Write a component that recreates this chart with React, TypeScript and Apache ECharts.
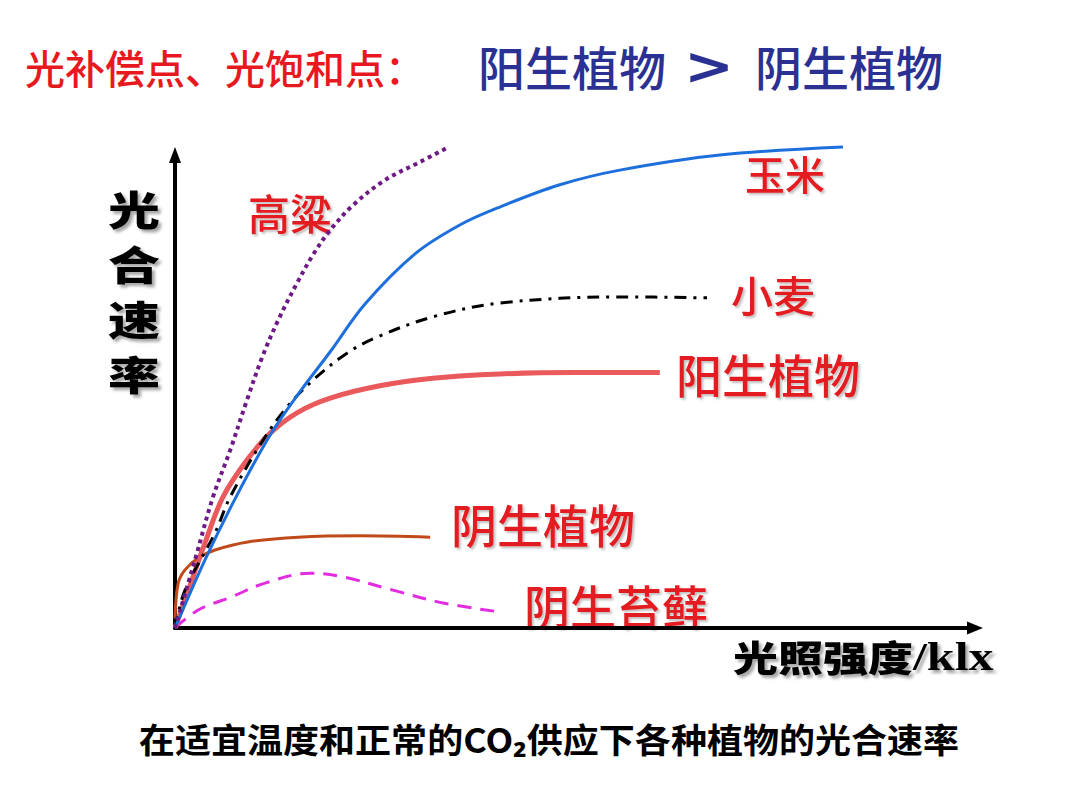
import React, { useEffect, useRef } from "react";
import * as echarts from "echarts";

// Light intensity (x, 0-100 along the drawn axis) vs photosynthetic rate (y, 0-100)
const cornData: number[][] = [
  [0, 0], [3.75, 14.4], [7.75, 28.1], [11.9, 40.8], [15.6, 49.9], [19.4, 58.4], [23.75, 68.5],
  [30, 79.1], [35.6, 85.2], [40.6, 89], [48.1, 93.7], [55.6, 96.8], [68.1, 100], [83.5, 101.7],
];
const sorghumData: number[][] = [
  [0, 0], [2.5, 14.4], [4.75, 27.7], [6.9, 37.6], [9.0, 48.2], [11.0, 57.7], [13.1, 65.8],
  [15.25, 72.9], [17.25, 78.9], [19.4, 84.1], [22.25, 89.4], [26.25, 94.7], [30.6, 98.5], [34, 101.5],
];
const wheatData: number[][] = [
  [0, 0], [1.25, 8], [5, 20.1], [6.9, 27.7], [11, 39.7], [14, 46.7], [17.25, 52.4],
  [21.5, 58.1], [25.25, 61.5], [32.25, 65.8], [40.6, 68.7], [55.6, 70], [66.5, 69.8],
];
const sunPlantData: number[][] = [
  [0, 0], [1.9, 9.1], [3.75, 18], [6, 27.7], [9, 35.5], [11.9, 41.2], [15.25, 45.5],
  [19.4, 48.6], [25.6, 51.2], [32.25, 52.8], [40.6, 53.7], [50, 54], [60.6, 54],
];
const shadePlantData: number[][] = [
  [0, 2], [0.4, 9.5], [1.25, 12.3], [2.9, 14.8], [5, 16.5], [9.1, 18.2], [15.4, 19.2],
  [23.1, 19.5], [31.9, 19.2],
];
const mossData: number[][] = [
  [0, 0], [2.9, 3.8], [7.1, 6.6], [11.25, 9.5], [16.9, 11.6], [21, 10.8], [27.25, 8],
  [33.5, 5.3], [40.6, 3.4],
];

const seriesNames = ["阴生苔藓", "阴生植物", "阳生植物", "小麦", "玉米", "高粱"];
const titleLeft = "光补偿点、光饱和点：";
const titleRightA = "阳生植物";
const titleRightB = "阴生植物";
const yAxisName = "光合速率";
const xAxisNameCn = "光照强度";
const xAxisUnit = "/klx";
const caption = "在适宜温度和正常的CO₂供应下各种植物的光合速率";

const CJK = '"Noto Sans CJK SC", "Noto Sans", sans-serif';
const LABEL_RED = "#E31B20";

export default function App() {
  const ref = useRef<HTMLDivElement>(null);
  useEffect(() => {
    if (!ref.current) return;
    const chart = echarts.init(ref.current, undefined, { renderer: "svg" });
    const lineBase = { type: "line" as const, showSymbol: false, smooth: 0.35, clip: false };
    const redLabel = (text: string, x: number, y: number, size: number) => ({
      type: "text",
      x,
      y,
      style: {
        text,
        fill: LABEL_RED,
        fontSize: size,
        fontFamily: CJK,
        fontWeight: 500,
        textAlign: "center",
        textVerticalAlign: "middle",
        textShadowColor: "rgba(0,0,0,0.25)",
        textShadowBlur: 2,
        textShadowOffsetX: 2,
        textShadowOffsetY: 2,
      },
    });
    chart.setOption({
      animation: false,
      backgroundColor: "#ffffff",
      grid: { left: 175, right: 105, top: 155, bottom: 182 },
      xAxis: {
        type: "value",
        min: 0,
        max: 100,
        axisLine: { show: true, lineStyle: { color: "#000", width: 4 }, symbol: ["none", "triangle"], symbolSize: [13, 16] },
        axisTick: { show: false },
        axisLabel: { show: false },
        splitLine: { show: false },
      },
      yAxis: {
        type: "value",
        min: 0,
        max: 100,
        axisLine: { show: true, lineStyle: { color: "#000", width: 4 }, symbol: ["none", "triangle"], symbolSize: [12, 16] },
        axisTick: { show: false },
        axisLabel: { show: false },
        splitLine: { show: false },
      },
      series: [
        { ...lineBase, name: seriesNames[0], data: mossData, lineStyle: { color: "#E22CE0", width: 3, type: [14, 9] } },
        { ...lineBase, name: seriesNames[1], data: shadePlantData, lineStyle: { color: "#C04A1A", width: 3 } },
        { ...lineBase, name: seriesNames[2], data: sunPlantData, lineStyle: { color: "#EA5A5C", width: 5 } },
        { ...lineBase, name: seriesNames[3], data: wheatData, lineStyle: { color: "#000000", width: 3, type: [12, 7, 3, 7] } },
        { ...lineBase, name: seriesNames[4], data: cornData, lineStyle: { color: "#1D6FDC", width: 3 } },
        { ...lineBase, name: seriesNames[5], data: sorghumData, lineStyle: { color: "#6E1A86", width: 4, type: [4, 4] } },
      ],
      graphic: [
        {
          type: "text",
          x: 25,
          y: 67,
          style: { text: titleLeft, fill: "#E8191E", fontSize: 40, fontFamily: CJK, fontWeight: 500, textAlign: "left", textVerticalAlign: "middle" },
        },
        {
          type: "text",
          x: 478,
          y: 65,
          style: { text: titleRightA, fill: "#2B3192", fontSize: 47, fontFamily: CJK, fontWeight: 500, textAlign: "left", textVerticalAlign: "middle" },
        },
        {
          type: "text",
          x: 709,
          y: 66,
          scaleX: 1.15,
          style: { text: ">", fill: "#2B3192", fontSize: 52, fontFamily: '"DejaVu Sans", sans-serif', fontWeight: 900, textAlign: "center", textVerticalAlign: "middle" },
        },
        {
          type: "text",
          x: 755,
          y: 65,
          style: { text: titleRightB, fill: "#2B3192", fontSize: 47, fontFamily: CJK, fontWeight: 500, textAlign: "left", textVerticalAlign: "middle" },
        },
        redLabel("高粱", 290, 211, 42),
        redLabel("玉米", 785, 173, 40),
        redLabel("小麦", 773, 293, 42),
        redLabel("阳生植物", 768, 373, 46),
        redLabel("阴生植物", 543, 523, 46),
        redLabel("阴生苔藓", 616, 604, 46),
        {
          type: "text",
          x: 134,
          y: 290,
          scaleX: 1.3,
          style: {
            text: yAxisName.split("").join("\n"),
            fill: "#000",
            fontSize: 40,
            lineHeight: 55,
            fontFamily: CJK,
            fontWeight: 900,
            textAlign: "center",
            textVerticalAlign: "middle",
            textShadowColor: "rgba(0,0,0,0.35)",
            textShadowBlur: 3,
            textShadowOffsetX: 3,
            textShadowOffsetY: 3,
          },
        },
        {
          type: "text",
          x: 733,
          y: 657,
          scaleX: 1.25,
          style: {
            text: `{a|${xAxisNameCn}}{b|${xAxisUnit}}`,
            textAlign: "left",
            textVerticalAlign: "middle",
            textShadowColor: "rgba(0,0,0,0.35)",
            textShadowBlur: 3,
            textShadowOffsetX: 3,
            textShadowOffsetY: 3,
            rich: {
              a: { fontSize: 36, fontFamily: CJK, fontWeight: 900, fill: "#000", color: "#000" },
              b: { fontSize: 40, fontFamily: '"Liberation Serif", serif', fontWeight: 700, fill: "#000", color: "#000" },
            },
          },
        },
        {
          type: "text",
          x: 549,
          y: 738,
          scaleX: 1.06,
          style: {
            text: caption,
            fill: "#000",
            fontSize: 34,
            fontFamily: CJK,
            fontWeight: 700,
            textAlign: "center",
            textVerticalAlign: "middle",
          },
        },
      ],
    });
    return () => chart.dispose();
  }, []);
  return <div ref={ref} style={{ position: "fixed", left: 0, top: 0, width: 1080, height: 810 }} />;
}
